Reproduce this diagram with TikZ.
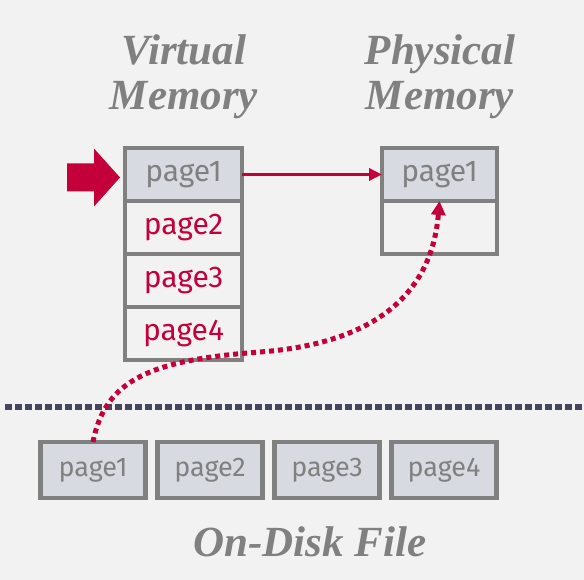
\documentclass[tikz,border=0pt]{standalone}
\usepackage{fontspec}
\setmainfont{Liberation Serif}
\setsansfont{Fira Sans}
\usetikzlibrary{positioning}
\usetikzlibrary{arrows.meta}
\usetikzlibrary{calc}

\definecolor{bggray}{HTML}{F2F2F2}
\definecolor{boxgray}{HTML}{808080}
\definecolor{boxfill}{HTML}{D8DAE1}
\definecolor{crimson}{HTML}{C4003A}
\definecolor{navy}{HTML}{46465E}

\begin{document}
\begin{tikzpicture}[
	x=1pt,
	y=-1pt,
	font=\sffamily\fontsize{30}{34}\selectfont]

\tikzstyle{page}=[draw=boxgray, line width=4.5pt, minimum width=117pt,
	minimum height=53pt, inner sep=0pt, outer sep=0pt, text=boxgray]
\tikzstyle{used page}=[page, fill=boxfill]
\tikzstyle{free page}=[page, fill=bggray, text=crimson]
\tikzstyle{disk page}=[used page, minimum width=105pt, minimum height=56pt,
	font=\sffamily\fontsize{27}{30}\selectfont]
\tikzstyle{title}=[text=boxgray, align=center, inner sep=0pt,
	font=\rmfamily\bfseries\itshape\fontsize{43}{45}\selectfont]

% background and size
\fill[bggray] (0,0) rectangle (584,580);
\useasboundingbox (0,0) rectangle (584,580);

% titles
\node[title, anchor=base] (vtitle) at (184,110) {Virtual\\Memory};
\node[title, anchor=base] (ptitle) at (440,110) {Physical\\Memory};
\node[title, anchor=base] (ftitle) at (310,556) {On-Disk File};

% virtual memory pages
\node[used page] (v1) at (183.5,174.5) {page1};
\node[free page, below=0pt of v1] (v2) {page2};
\node[free page, below=0pt of v2] (v3) {page3};
\node[free page, below=0pt of v3] (v4) {page4};

% physical memory frames
\node[used page, minimum width=115pt] (p1) at (439.5,174.5) {page1};
\node[page, fill=bggray, minimum width=115pt, below=0pt of p1] (p2) {};

% pages of the file on disk
\node[disk page] (d1) at (93,470) {page1};
\node[disk page, right=12pt of d1] (d2) {page2};
\node[disk page, right=12pt of d2] (d3) {page3};
\node[disk page, right=12pt of d3] (d4) {page4};

% memory / disk border
\coordinate (sepleft) at (5,407);
\coordinate (sepright) at (584,407);
\draw[navy, line width=6pt, dash pattern=on 6.5pt off 3.5pt] (sepleft) -- (sepright);

% pointer to the page in use
\coordinate (tip) at ($(v1.west)+(-5,3)$);
\fill[crimson]
	(tip) -- ++(-26,-29) -- ++(0,15) -- ++(-27,0)
	-- ++(0,28) -- ++(27,0) -- ++(0,15) -- cycle;

% mapping
\draw[crimson, line width=3.5pt, -{Triangle[length=13pt,width=12pt]}]
	(v1.east) -- (p1.west);

% page fault, load from disk
\coordinate (bend) at (260,352);
\draw[crimson, line width=5pt, dash pattern=on 5pt off 4pt,
	-{Triangle[length=14pt,width=14pt]}]
	(d1.north) .. controls (105,380) and (150,360) .. (bend)
	.. controls (380,343) and (432,290) .. (p1.south);

\end{tikzpicture}
\end{document}
